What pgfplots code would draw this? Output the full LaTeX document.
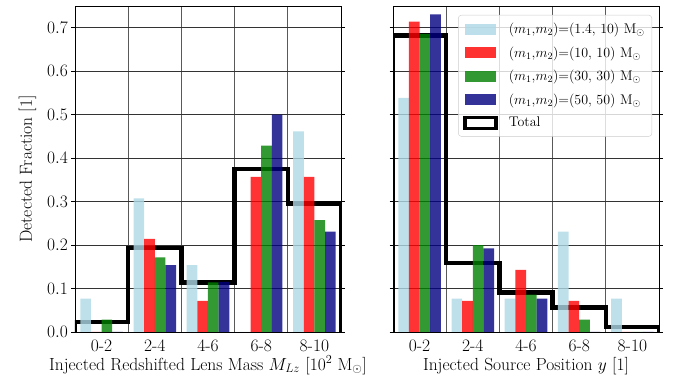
\RequirePackage{fix-cm}
\documentclass[border=0pt]{standalone}
\usepackage{fontspec}
\usepackage{pgfplots}
\pgfplotsset{compat=1.18}
\definecolor{mlblue}{HTML}{ADD8E6}
\definecolor{mlred}{HTML}{FF0000}
\definecolor{mlgreen}{HTML}{008000}
\definecolor{mlnavy}{HTML}{000080}
\pgfplotsset{
  hist/.style={
    scale only axis, width=266pt, height=326pt,
    xmin=0, xmax=10, ymin=0, ymax=0.75,
    xtick={1,3,5,7,9}, xticklabels={0-2,2-4,4-6,6-8,8-10},
    minor xtick={0,2,4,6,8,10},
    ytick={0,0.1,...,0.71},
    yticklabel style={/pgf/number format/fixed, /pgf/number format/fixed zerofill, /pgf/number format/precision=1},
    xmajorgrids=false, xminorgrids=true, ymajorgrids=true,
    major grid style={black!80, line width=0.7pt},
    minor grid style={black!65, line width=0.7pt},
    tick align=outside, major tick length=3.5pt, minor tick length=0pt,
    xtick style={draw=none}, ytick style={black, line width=0.8pt},
    axis line style={black, line width=0.8pt},
    tick label style={font=\fontsize{17.5}{20}\selectfont},
    label style={font=\fontsize{17.5}{20}\selectfont},
    xlabel style={at={(axis description cs:0.5,-0.1166)}, anchor=base},
    xticklabel style={yshift=-1pt},
  },
  barA/.style={ybar, bar width=0.4, bar shift=0pt, draw=none, fill=mlblue, fill opacity=0.8},
  barB/.style={ybar, bar width=0.4, bar shift=0pt, draw=none, fill=mlred, fill opacity=0.8},
  barC/.style={ybar, bar width=0.4, bar shift=0pt, draw=none, fill=mlgreen, fill opacity=0.8},
  barD/.style={ybar, bar width=0.4, bar shift=0pt, draw=none, fill=mlnavy, fill opacity=0.8},
  totline/.style={black, line width=4.5pt, line join=miter, line cap=butt, no marks},
}
\begin{document}
\begin{tikzpicture}
\useasboundingbox (-75pt,-45pt) rectangle (603pt,332pt);
\begin{axis}[hist, at={(0pt,0pt)}, anchor=south west,
  ylabel={Detected Fraction [1]},
  ylabel style={at={(axis description cs:-0.1617,0.5)}, anchor=base, rotate=0},
  xlabel={Injected Redshifted Lens Mass $M_{Lz}$ [$10^2$ M$_\odot$]}]
\addplot[totline, forget plot] coordinates {(0,0) (0,0.0227) (2,0.0227) (2,0.1932) (4,0.1932) (4,0.1136) (6,0.1136) (6,0.375) (8,0.375) (8,0.2955) (10,0.2955) (10,0)};
\addplot[barA, forget plot] coordinates {(0.4,0.0769) (2.4,0.3077) (4.4,0.1538) (6.4,0) (8.4,0.4615)};
\addplot[barB, forget plot] coordinates {(0.8,0) (2.8,0.2143) (4.8,0.0714) (6.8,0.3571) (8.8,0.3571)};
\addplot[barC, forget plot] coordinates {(1.2,0.0286) (3.2,0.1714) (5.2,0.1143) (7.2,0.4286) (9.2,0.2571)};
\addplot[barD, forget plot] coordinates {(1.6,0) (3.6,0.1538) (5.6,0.1154) (7.6,0.5) (9.6,0.2308)};
\end{axis}
\begin{axis}[hist, at={(318pt,0pt)}, anchor=south west,
  yticklabels={},
  xlabel={Injected Source Position $y$ [1]},
  legend cell align=left,
  legend style={at={(rel axis cs:1,1)}, anchor=north east, xshift=-7pt, yshift=-9pt,
    draw=black!20, rounded corners=3pt, fill=white, fill opacity=0.8, text opacity=1, draw opacity=1,
    font=\fontsize{14}{16}\selectfont, row sep=7.5pt, inner xsep=5pt, inner ysep=6pt,
    /tikz/every odd column/.append style={column sep=9pt}},
  legend image code/.code={\fill[#1, sharp corners] (0pt,-5.5pt) rectangle (31pt,5.5pt);}]
\addplot[totline, forget plot] coordinates {(0,0) (0,0.6818) (2,0.6818) (2,0.1591) (4,0.1591) (4,0.0909) (6,0.0909) (6,0.0568) (8,0.0568) (8,0.0114) (10,0.0114) (10,0)};
\addplot[barA] coordinates {(0.4,0.5385) (2.4,0.0769) (4.4,0.0769) (6.4,0.2308) (8.4,0.0769)};
\addlegendentry{$(m_1$,$m_2)$=(1.4, 10) M$_\odot$}
\addplot[barB] coordinates {(0.8,0.7143) (2.8,0.0714) (4.8,0.1429) (6.8,0.0714) (8.8,0)};
\addlegendentry{$(m_1$,$m_2)$=(10, 10) M$_\odot$}
\addplot[barC] coordinates {(1.2,0.6857) (3.2,0.2) (5.2,0.0857) (7.2,0.0286) (9.2,0)};
\addlegendentry{$(m_1$,$m_2)$=(30, 30) M$_\odot$}
\addplot[barD] coordinates {(1.6,0.7308) (3.6,0.1923) (5.6,0.0769) (7.6,0) (9.6,0)};
\addlegendentry{$(m_1$,$m_2)$=(50, 50) M$_\odot$}
\addlegendimage{legend image code/.code={\draw[black, line width=3.5pt, fill=white, sharp corners] (0pt,-5.5pt) rectangle (31pt,5.5pt);}}
\addlegendentry{Total}
\end{axis}
\end{tikzpicture}
\end{document}
